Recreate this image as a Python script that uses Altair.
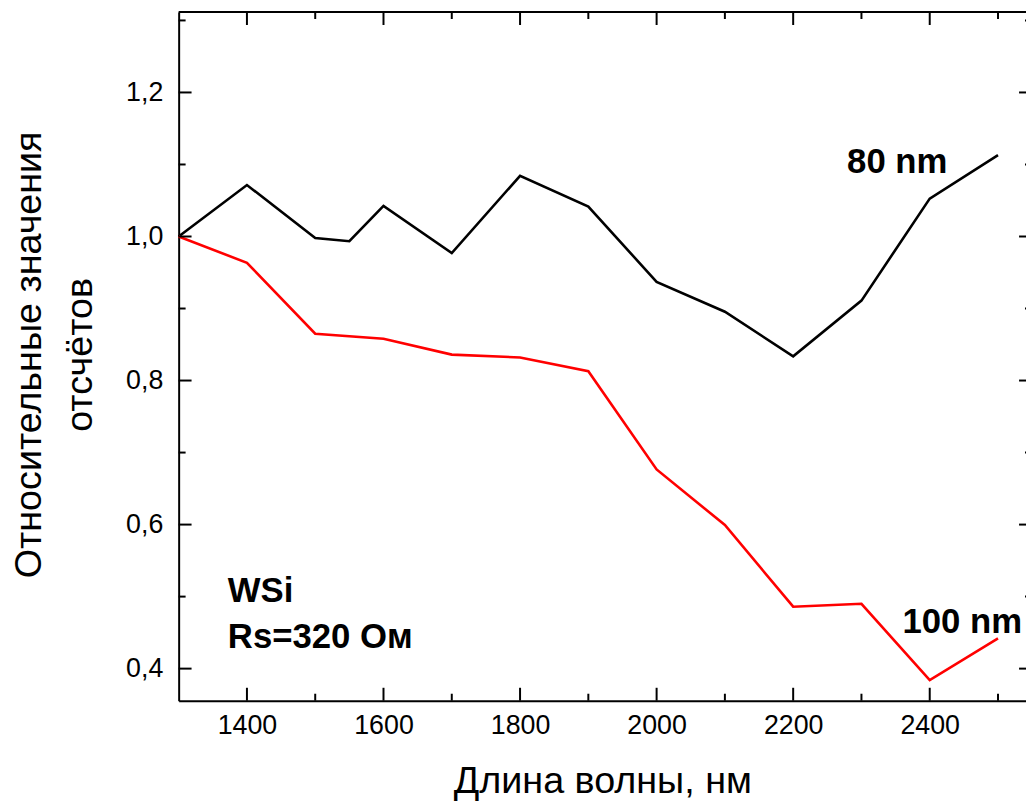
import altair as alt
import pandas as pd

# ---- data ----
wavelength_80 = [1300, 1400, 1500, 1550, 1600, 1700, 1800, 1900, 2000, 2100, 2200, 2300, 2400, 2500]
counts_80 = [1.000, 1.0715, 0.998, 0.9934, 1.0425, 0.977, 1.0843, 1.0416, 0.937, 0.8955, 0.8336, 0.911, 1.0526, 1.113]

wavelength_100 = [1300, 1400, 1500, 1600, 1700, 1800, 1900, 2000, 2100, 2200, 2300, 2400, 2500]
counts_100 = [1.000, 0.9635, 0.865, 0.858, 0.836, 0.832, 0.813, 0.6765, 0.5994, 0.486, 0.490, 0.384, 0.442]

series_names = ["80 nm", "100 nm"]
series_colors = ["#000000", "#ff0000"]

x_major = [1400, 1600, 1800, 2000, 2200, 2400]
x_minor = [1500, 1700, 1900, 2100, 2300, 2500]
y_major = [0.4, 0.6, 0.8, 1.0, 1.2]
y_minor = [0.5, 0.7, 0.9, 1.1, 1.3]

ann_text = ["80 nm", "100 nm", "WSi", "Rs=320 Ом"]
ann_x = [2279, 2360, 1372, 1372]
ann_y = [1.088, 0.449, 0.493, 0.4285]

x_title = "Длина волны, нм"
y_title = ["Относительные значения", "отсчётов"]

# ---- layout / style ----
W, H = 854, 694
FONT = "Liberation Sans"
xs = alt.Scale(domain=[1300, 2541], nice=False, zero=False)
ys = alt.Scale(domain=[0.3555, 1.3116], nice=False, zero=False)

lines_df = pd.concat([
    pd.DataFrame({"x": wavelength_80, "y": counts_80, "series": series_names[0]}),
    pd.DataFrame({"x": wavelength_100, "y": counts_100, "series": series_names[1]}),
])

x_axis = alt.Axis(
    values=x_major, format="d", ticks=False, grid=False,
    domain=True, domainColor="black", domainWidth=2,
    labelFont=FONT, labelFontSize=27, labelColor="black", labelPadding=12,
    title=x_title, titleFont=FONT, titleFontSize=38, titleFontWeight="normal",
    titleColor="black", titleY=93, titleBaseline="alphabetic",
)
y_axis = alt.Axis(
    values=y_major, labelExpr="replace(format(datum.value, '.1f'), '.', ',')",
    ticks=False, grid=False,
    domain=True, domainColor="black", domainWidth=2,
    labelFont=FONT, labelFontSize=27, labelColor="black", labelPadding=16,
    title=y_title, titleFont=FONT, titleFontSize=38, titleFontWeight="normal",
    titleColor="black", titleAngle=270, titleAlign="center", titleBaseline="alphabetic",
    titleX=-139, titleY=H / 2 - 2, titleLineHeight=51,
)

lines = alt.Chart(lines_df).mark_line(strokeWidth=2.6).encode(
    x=alt.X("x:Q", scale=xs, axis=x_axis),
    y=alt.Y("y:Q", scale=ys, axis=y_axis),
    color=alt.Color("series:N", scale=alt.Scale(domain=series_names, range=series_colors), legend=None),
    detail="series:N",
)

def xticks(vals, length, top):
    df = pd.DataFrame({"x": vals})
    if top:
        enc = dict(y=alt.value(0), y2=alt.value(length))
    else:
        enc = dict(y=alt.value(H), y2=alt.value(H - length))
    return alt.Chart(df).mark_rule(color="black", strokeWidth=2).encode(
        x=alt.X("x:Q", scale=xs), **enc)

def yticks(vals, length, right):
    df = pd.DataFrame({"y": vals})
    if right:
        enc = dict(x=alt.value(W), x2=alt.value(W - length))
    else:
        enc = dict(x=alt.value(0), x2=alt.value(length))
    return alt.Chart(df).mark_rule(color="black", strokeWidth=2).encode(
        y=alt.Y("y:Q", scale=ys), **enc)

tick_layers = [
    xticks(x_major, 13, False), xticks(x_minor, 7, False),
    xticks(x_major, 13, True), xticks(x_minor, 7, True),
    yticks(y_major, 13, False), yticks(y_minor, 7, False),
    yticks(y_major, 7, True), yticks(y_minor, 1, True),
]

top_line = alt.Chart(pd.DataFrame({"k": [0]})).mark_rule(color="black", strokeWidth=2).encode(
    x=alt.value(0), x2=alt.value(W), y=alt.value(0))

ann_df = pd.DataFrame({"x": ann_x, "y": ann_y, "label": ann_text})
annotations = alt.Chart(ann_df).mark_text(
    align="left", baseline="alphabetic", font=FONT, fontSize=35, fontWeight="bold", color="black"
).encode(x=alt.X("x:Q", scale=xs), y=alt.Y("y:Q", scale=ys), text="label:N")

chart = alt.layer(lines, top_line, *tick_layers, annotations).properties(
    width=W, height=H,
    padding={"left": 172, "top": 1, "right": 0, "bottom": 98},
    autosize=alt.AutoSizeParams(type="none"),
    background="white",
).configure_view(stroke=None)

chart.save("out.html", embed_options={"renderer": "svg", "actions": False})
